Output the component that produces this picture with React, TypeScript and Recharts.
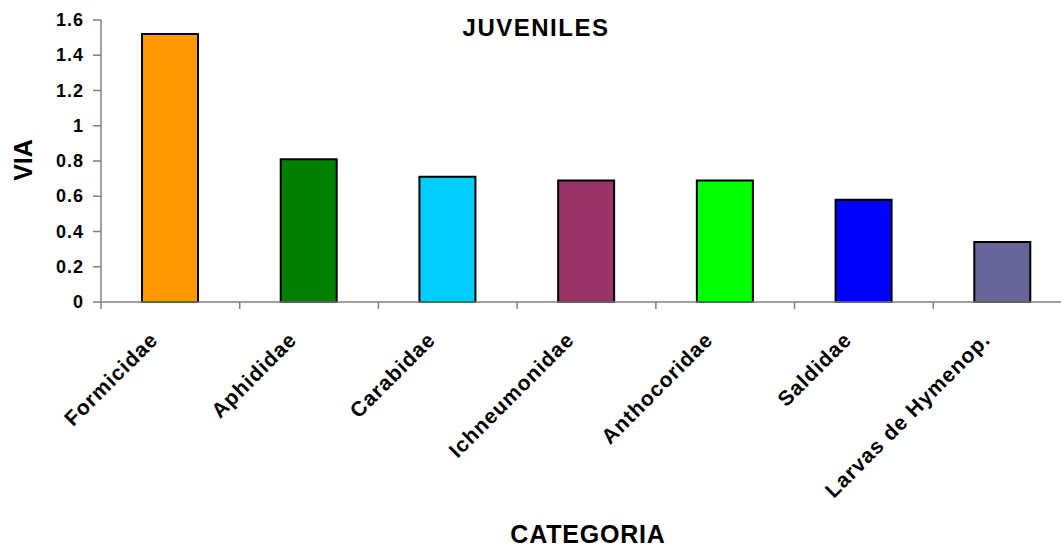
import React from 'react';
import { BarChart, Bar, XAxis, YAxis, Cell } from 'recharts';

const categories = [
  'Formicidae',
  'Aphididae',
  'Carabidae',
  'Ichneumonidae',
  'Anthocoridae',
  'Saldidae',
  'Larvas de Hymenop.',
];
const via = [1.52, 0.81, 0.71, 0.69, 0.69, 0.58, 0.34];
const barColors = ['#FF9900', '#008000', '#00CCFF', '#993366', '#00FF00', '#0000FF', '#666699'];
const yTicks = [0, 0.2, 0.4, 0.6, 0.8, 1, 1.2, 1.4, 1.6];

const data = categories.map((name, i) => ({ name, via: via[i] }));

const FONT = '"Liberation Sans", Arial, sans-serif';
const CHART_W = 1080;
const CHART_H = 549;
const X_AXIS_H = 30;
const MARGIN = { top: 20, right: 8, left: 0, bottom: 247 - X_AXIS_H };
const Y_AXIS_W = 101;
const PLOT_W = CHART_W - MARGIN.left - MARGIN.right - Y_AXIS_W;
const HALF_BAND = PLOT_W / categories.length / 2;

// category label rotated 45deg, plus a tick mark on the left edge of its band
function CategoryTick(props: any) {
  const { x, y, payload } = props;
  const lx = x - 11;
  const ly = y + 39;
  return (
    <g>
      <line x1={x - HALF_BAND} y1={y} x2={x - HALF_BAND} y2={y + 7} stroke="#808080" strokeWidth={1.5} />
      <text
        x={lx}
        y={ly}
        transform={`rotate(-45, ${lx}, ${ly})`}
        textAnchor="end"
        fontFamily={FONT}
        fontWeight="bold"
        fontSize={21}
        letterSpacing={1}
        fill="#000"
      >
        {payload.value}
      </text>
    </g>
  );
}

function ValueTick(props: any) {
  const { x, y, payload } = props;
  return (
    <text
      x={x - 7}
      y={y + 6}
      textAnchor="end"
      fontFamily={FONT}
      fontWeight="bold"
      fontSize={18}
      letterSpacing={1}
      fill="#000"
    >
      {payload.value}
    </text>
  );
}

export default function App() {
  return (
    <div
      style={{
        position: 'absolute',
        left: 0,
        top: 0,
        width: 1061,
        height: 549,
        overflow: 'hidden',
        background: '#fff',
      }}
    >
      <BarChart width={CHART_W} height={CHART_H} data={data} margin={MARGIN} barCategoryGap={0}>
        <XAxis
          dataKey="name"
          height={X_AXIS_H}
          interval={0}
          tick={<CategoryTick />}
          tickLine={false}
          tickSize={0}
          tickMargin={0}
          axisLine={{ stroke: '#808080', strokeWidth: 1.5 }}
        />
        <YAxis
          width={Y_AXIS_W}
          domain={[0, 1.6]}
          ticks={yTicks}
          tick={<ValueTick />}
          tickSize={8}
          tickLine={{ stroke: '#808080', strokeWidth: 1.5 }}
          axisLine={{ stroke: '#808080', strokeWidth: 1.5 }}
        />
        <Bar dataKey="via" barSize={56} stroke="#000" strokeWidth={2} isAnimationActive={false}>
          {data.map((d, i) => (
            <Cell key={d.name} fill={barColors[i]} />
          ))}
        </Bar>
        <text x={536} y={36} textAnchor="middle" fontFamily={FONT} fontWeight="bold" fontSize={24} letterSpacing={1.5}>
          JUVENILES
        </text>
        <text x={588} y={543} textAnchor="middle" fontFamily={FONT} fontWeight="bold" fontSize={25} letterSpacing={0.8}>
          CATEGORIA
        </text>
        <text
          x={32}
          y={160}
          transform="rotate(-90, 32, 160)"
          textAnchor="middle"
          fontFamily={FONT}
          fontWeight="bold"
          fontSize={25}
        >
          VIA
        </text>
      </BarChart>
    </div>
  );
}
